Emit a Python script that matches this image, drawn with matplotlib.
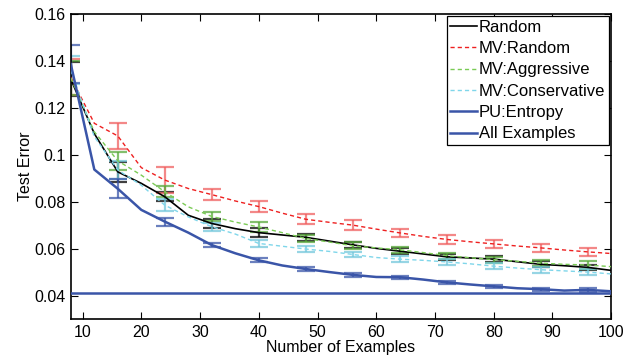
import matplotlib
matplotlib.use("Agg")
import matplotlib.pyplot as plt
import numpy as np

plt.rcParams['font.family'] = ['Liberation Sans', 'DejaVu Sans']

x = [8, 12, 16, 20, 24, 28, 32, 36, 40, 44, 48, 52, 56, 60, 64, 68, 72, 76, 80, 84, 88, 92, 96, 100]

random_err_rate = [0.1322, 0.1090, 0.0927, 0.0878, 0.0821, 0.0742, 0.0707, 0.0685, 0.0668, 0.0658, 0.0648, 0.0632,
                   0.0616, 0.0601, 0.0589, 0.0577, 0.0565, 0.0560, 0.0555, 0.0544, 0.0533, 0.0527, 0.0520, 0.0507]
mv_random = [0.1330, 0.1134, 0.1080, 0.0945, 0.0892, 0.0856, 0.0830, 0.0803, 0.0779, 0.0751, 0.0725, 0.0712,
             0.0700, 0.0683, 0.0667, 0.0652, 0.0639, 0.0629, 0.0620, 0.0611, 0.0603, 0.0594, 0.0586, 0.0579]
mv_aggressive = [0.1327, 0.1098, 0.0974, 0.0913, 0.0842, 0.0778, 0.0737, 0.0713, 0.0692, 0.0668, 0.0643, 0.0628,
                 0.0612, 0.0603, 0.0595, 0.0583, 0.0570, 0.0561, 0.0553, 0.0546, 0.0538, 0.0533, 0.0530, 0.0523]
mv_conservative = [0.1360, 0.1077, 0.0935, 0.0870, 0.0785, 0.0735, 0.0693, 0.0662, 0.0622, 0.0610, 0.0598, 0.0588,
                   0.0575, 0.0562, 0.0555, 0.0550, 0.0543, 0.0535, 0.0525, 0.0517, 0.0510, 0.0505, 0.0500, 0.0492]
pu_entropy = [0.1386, 0.0937, 0.0855, 0.0765, 0.0715, 0.0668, 0.0615, 0.0580, 0.0550, 0.0528, 0.0513, 0.0500,
              0.0488, 0.0479, 0.0478, 0.0468, 0.0456, 0.0447, 0.0439, 0.0431, 0.0427, 0.0421, 0.0424, 0.0418]
all_examples = 0.0411

# half-widths of error bars, at x = 8, 16, ..., 96
random_sd = [0.0072, 0.0042, 0.0020, 0.0018, 0.0018, 0.0014, 0.0013, 0.0012, 0.0013, 0.0013, 0.0012, 0.0012]
mv_random_sd = [0.0077, 0.0056, 0.0055, 0.0025, 0.0025, 0.0021, 0.0021, 0.0018, 0.0020, 0.0018, 0.0018, 0.0017]
mv_aggressive_sd = [0.0073, 0.0037, 0.0023, 0.0020, 0.0020, 0.0016, 0.0014, 0.0013, 0.0013, 0.0013, 0.0013, 0.0015]
mv_conservative_sd = [0.0060, 0.0040, 0.0025, 0.0016, 0.0015, 0.0012, 0.0012, 0.0013, 0.0012, 0.0012, 0.0012, 0.0012]
pu_entropy_sd = [0.0082, 0.0040, 0.0017, 0.0010, 0.0009, 0.0007, 0.0007, 0.0007, 0.0007, 0.0007, 0.0007, 0.0007]

labels = ['Random', 'MV:Random', 'MV:Aggressive', 'MV:Conservative', 'PU:Entropy', 'All Examples']

fig = plt.figure(figsize=(6.38, 3.58), dpi=100)
ax = fig.add_axes([0.111, 0.109, 0.847, 0.852])

series = [
    (random_err_rate, random_sd, '#000000', '#000000', '-', 1.2),
    (mv_random, mv_random_sd, '#ee2020', '#f06060', '--', 1.0),
    (mv_aggressive, mv_aggressive_sd, '#7acb55', '#5aaa3c', '--', 1.0),
    (mv_conservative, mv_conservative_sd, '#7fd6ea', '#74c8dc', '--', 1.0),
    (pu_entropy, pu_entropy_sd, '#3a55a8', '#3a55a8', '-', 1.8),
]

xe = np.array(x)[::2]
handles = []
for (vals, sd, col, ecol, ls, lw), lab in zip(series, labels[:5]):
    v = np.array(vals)
    ax.errorbar(xe, v[::2], yerr=sd, fmt='none', ecolor=ecol, elinewidth=1.6,
                capsize=6.5, capthick=1.6, alpha=0.75, zorder=2)
    if ls == '--':
        h, = ax.plot(x, vals, color=col, lw=lw, ls=ls, dashes=(3, 2.2), zorder=3, label=lab)
    else:
        h, = ax.plot(x, vals, color=col, lw=lw, ls=ls, zorder=3, label=lab)
    handles.append(h)

ha = ax.axhline(all_examples, color='#3a55a8', lw=1.8, zorder=3, label=labels[5])
handles.append(ha)

ax.set_xlim(8, 100)
ax.set_ylim(0.03, 0.16)
ax.set_xticks([10, 20, 30, 40, 50, 60, 70, 80, 90, 100])
ax.set_yticks([0.04, 0.06, 0.08, 0.1, 0.12, 0.14, 0.16])
ax.set_yticklabels(['0.04', '0.06', '0.08', '0.1', '0.12', '0.14', '0.16'])
ax.tick_params(direction='in', top=True, right=True, length=5, width=0.8, labelsize=11.5, pad=4)
for s in ax.spines.values():
    s.set_linewidth(1.2)

ax.set_xlabel('Number of Examples', fontsize=11.5, labelpad=0.5)
ax.set_ylabel('Test Error', fontsize=11.5, labelpad=1)

leg = ax.legend(handles=handles, labels=labels, loc='upper right', fontsize=12,
                frameon=True, fancybox=False, edgecolor='black', framealpha=1,
                handlelength=1.6, handletextpad=0.12, labelspacing=0.38,
                borderpad=0.2, borderaxespad=0.15)
leg.get_frame().set_linewidth(0.9)

fig.savefig('out.png', dpi=100)
